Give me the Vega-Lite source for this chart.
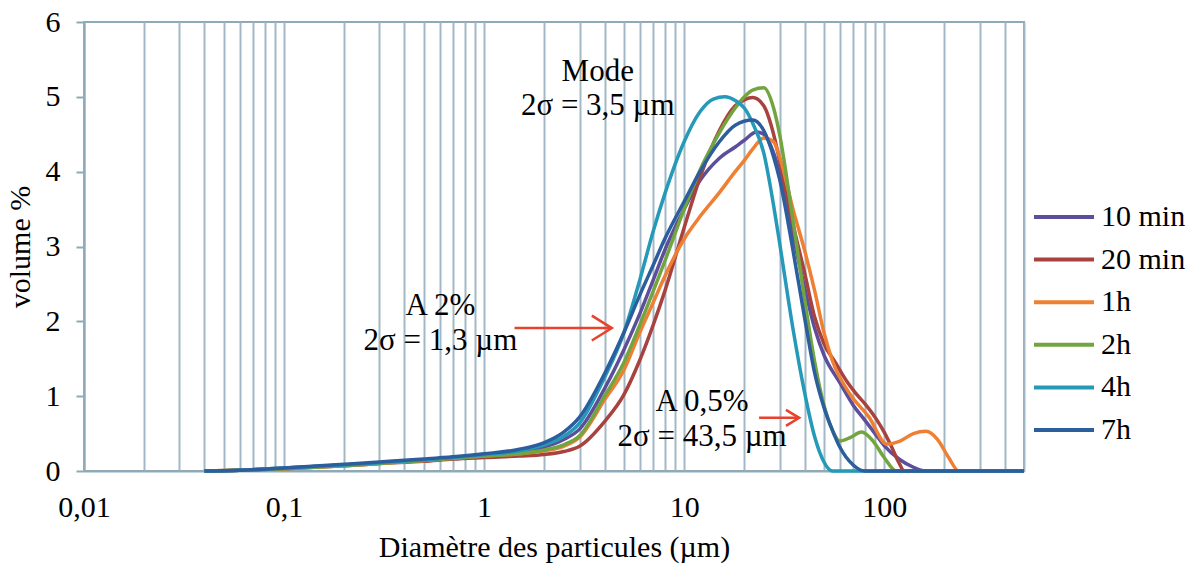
{
  "$schema": "https://vega.github.io/schema/vega-lite/v6.json",
  "width": 940,
  "height": 449,
  "autosize": {"type": "none"},
  "padding": {"left": 84, "top": 22, "right": 175, "bottom": 99},
  "background": "white",
  "config": {
    "view": {"stroke": "#8FA9B8", "strokeWidth": 2},
    "font": "Liberation Serif",
    "axis": {"labelFont": "Liberation Serif", "titleFont": "Liberation Serif", "labelFontSize": 30, "titleFontSize": 30, "titleFontWeight": "normal", "labelColor": "black", "titleColor": "black", "domainColor": "#8FA9B8", "domainWidth": 2, "tickColor": "#8FA9B8", "tickWidth": 2},
    "legend": {"labelFont": "Liberation Serif"}
  },
  "datasets": {
    "curves": [
      {"s":"10 min","d":0.04,"v":0},{"s":"10 min","d":0.06,"v":0.01},{"s":"10 min","d":0.1,"v":0.04},{"s":"10 min","d":0.2,"v":0.08},{"s":"10 min","d":0.3,"v":0.11},{"s":"10 min","d":0.5,"v":0.15},{"s":"10 min","d":0.7,"v":0.18},{"s":"10 min","d":1,"v":0.21},{"s":"10 min","d":1.5,"v":0.26},{"s":"10 min","d":2,"v":0.32},{"s":"10 min","d":2.5,"v":0.42},{"s":"10 min","d":3,"v":0.56},{"s":"10 min","d":4,"v":1.1},{"s":"10 min","d":5,"v":1.62},{"s":"10 min","d":6,"v":2.1},{"s":"10 min","d":7,"v":2.55},{"s":"10 min","d":8,"v":2.95},{"s":"10 min","d":10,"v":3.5},{"s":"10 min","d":12,"v":3.88},{"s":"10 min","d":15,"v":4.18},{"s":"10 min","d":18,"v":4.33},{"s":"10 min","d":20,"v":4.42},{"s":"10 min","d":23,"v":4.53},{"s":"10 min","d":25,"v":4.5},{"s":"10 min","d":28,"v":4.25},{"s":"10 min","d":30,"v":3.98},{"s":"10 min","d":35,"v":3.15},{"s":"10 min","d":40,"v":2.45},{"s":"10 min","d":45,"v":1.9},{"s":"10 min","d":50,"v":1.55},{"s":"10 min","d":60,"v":1.18},{"s":"10 min","d":70,"v":0.88},{"s":"10 min","d":80,"v":0.68},{"s":"10 min","d":90,"v":0.5},{"s":"10 min","d":100,"v":0.34},{"s":"10 min","d":120,"v":0.15},{"s":"10 min","d":140,"v":0.05},{"s":"10 min","d":160,"v":0},{"s":"10 min","d":500,"v":0},
      {"s":"20 min","d":0.04,"v":0},{"s":"20 min","d":0.06,"v":0.01},{"s":"20 min","d":0.1,"v":0.03},{"s":"20 min","d":0.2,"v":0.07},{"s":"20 min","d":0.3,"v":0.1},{"s":"20 min","d":0.5,"v":0.13},{"s":"20 min","d":0.7,"v":0.16},{"s":"20 min","d":1,"v":0.18},{"s":"20 min","d":1.5,"v":0.2},{"s":"20 min","d":2,"v":0.22},{"s":"20 min","d":2.5,"v":0.26},{"s":"20 min","d":3,"v":0.33},{"s":"20 min","d":4,"v":0.66},{"s":"20 min","d":5,"v":1.02},{"s":"20 min","d":6,"v":1.48},{"s":"20 min","d":7,"v":1.95},{"s":"20 min","d":8,"v":2.4},{"s":"20 min","d":10,"v":3.25},{"s":"20 min","d":12,"v":3.92},{"s":"20 min","d":15,"v":4.55},{"s":"20 min","d":18,"v":4.88},{"s":"20 min","d":20,"v":4.96},{"s":"20 min","d":22,"v":4.99},{"s":"20 min","d":25,"v":4.88},{"s":"20 min","d":28,"v":4.5},{"s":"20 min","d":30,"v":4.15},{"s":"20 min","d":35,"v":3.3},{"s":"20 min","d":40,"v":2.65},{"s":"20 min","d":45,"v":2.05},{"s":"20 min","d":50,"v":1.7},{"s":"20 min","d":57,"v":1.45},{"s":"20 min","d":65,"v":1.2},{"s":"20 min","d":72,"v":1.04},{"s":"20 min","d":80,"v":0.9},{"s":"20 min","d":91,"v":0.7},{"s":"20 min","d":100,"v":0.52},{"s":"20 min","d":109,"v":0.32},{"s":"20 min","d":118,"v":0.12},{"s":"20 min","d":126,"v":0},{"s":"20 min","d":500,"v":0},
      {"s":"1h","d":0.04,"v":0},{"s":"1h","d":0.06,"v":0.01},{"s":"1h","d":0.1,"v":0.03},{"s":"1h","d":0.2,"v":0.07},{"s":"1h","d":0.3,"v":0.1},{"s":"1h","d":0.5,"v":0.14},{"s":"1h","d":0.7,"v":0.17},{"s":"1h","d":1,"v":0.2},{"s":"1h","d":1.5,"v":0.23},{"s":"1h","d":2,"v":0.27},{"s":"1h","d":2.5,"v":0.33},{"s":"1h","d":3,"v":0.45},{"s":"1h","d":4,"v":0.95},{"s":"1h","d":5,"v":1.35},{"s":"1h","d":6,"v":1.85},{"s":"1h","d":7,"v":2.25},{"s":"1h","d":8,"v":2.6},{"s":"1h","d":10,"v":3.1},{"s":"1h","d":12,"v":3.4},{"s":"1h","d":15,"v":3.72},{"s":"1h","d":18,"v":4.0},{"s":"1h","d":20,"v":4.15},{"s":"1h","d":22,"v":4.3},{"s":"1h","d":25,"v":4.45},{"s":"1h","d":28,"v":4.4},{"s":"1h","d":30,"v":4.2},{"s":"1h","d":35,"v":3.5},{"s":"1h","d":40,"v":2.95},{"s":"1h","d":45,"v":2.4},{"s":"1h","d":50,"v":1.85},{"s":"1h","d":55,"v":1.48},{"s":"1h","d":67,"v":1.04},{"s":"1h","d":84,"v":0.72},{"s":"1h","d":103,"v":0.36},{"s":"1h","d":120,"v":0.4},{"s":"1h","d":140,"v":0.5},{"s":"1h","d":162,"v":0.53},{"s":"1h","d":185,"v":0.42},{"s":"1h","d":210,"v":0.18},{"s":"1h","d":236,"v":0},{"s":"1h","d":500,"v":0},
      {"s":"2h","d":0.04,"v":0},{"s":"2h","d":0.06,"v":0.01},{"s":"2h","d":0.1,"v":0.03},{"s":"2h","d":0.2,"v":0.07},{"s":"2h","d":0.3,"v":0.1},{"s":"2h","d":0.5,"v":0.14},{"s":"2h","d":0.7,"v":0.17},{"s":"2h","d":1,"v":0.2},{"s":"2h","d":1.5,"v":0.23},{"s":"2h","d":2,"v":0.28},{"s":"2h","d":2.5,"v":0.35},{"s":"2h","d":3,"v":0.47},{"s":"2h","d":4,"v":1.0},{"s":"2h","d":5,"v":1.45},{"s":"2h","d":6,"v":1.95},{"s":"2h","d":7,"v":2.4},{"s":"2h","d":8,"v":2.8},{"s":"2h","d":10,"v":3.5},{"s":"2h","d":12,"v":4.02},{"s":"2h","d":15,"v":4.52},{"s":"2h","d":18,"v":4.85},{"s":"2h","d":20,"v":5.0},{"s":"2h","d":22,"v":5.09},{"s":"2h","d":25,"v":5.12},{"s":"2h","d":28,"v":4.85},{"s":"2h","d":30,"v":4.5},{"s":"2h","d":35,"v":3.35},{"s":"2h","d":40,"v":2.3},{"s":"2h","d":45,"v":1.45},{"s":"2h","d":50,"v":0.88},{"s":"2h","d":55,"v":0.55},{"s":"2h","d":60,"v":0.4},{"s":"2h","d":68,"v":0.45},{"s":"2h","d":77,"v":0.52},{"s":"2h","d":88,"v":0.4},{"s":"2h","d":100,"v":0.18},{"s":"2h","d":115,"v":0},{"s":"2h","d":500,"v":0},
      {"s":"4h","d":0.04,"v":0},{"s":"4h","d":0.06,"v":0.01},{"s":"4h","d":0.1,"v":0.04},{"s":"4h","d":0.2,"v":0.08},{"s":"4h","d":0.3,"v":0.11},{"s":"4h","d":0.5,"v":0.15},{"s":"4h","d":0.7,"v":0.18},{"s":"4h","d":1,"v":0.22},{"s":"4h","d":1.5,"v":0.27},{"s":"4h","d":2,"v":0.35},{"s":"4h","d":2.5,"v":0.46},{"s":"4h","d":3,"v":0.64},{"s":"4h","d":4,"v":1.25},{"s":"4h","d":5,"v":1.85},{"s":"4h","d":6,"v":2.55},{"s":"4h","d":7,"v":3.2},{"s":"4h","d":8,"v":3.7},{"s":"4h","d":10,"v":4.4},{"s":"4h","d":12,"v":4.8},{"s":"4h","d":14,"v":4.97},{"s":"4h","d":16,"v":5.0},{"s":"4h","d":18,"v":4.95},{"s":"4h","d":20,"v":4.85},{"s":"4h","d":22,"v":4.65},{"s":"4h","d":25,"v":4.25},{"s":"4h","d":28,"v":3.55},{"s":"4h","d":30,"v":3.05},{"s":"4h","d":35,"v":1.9},{"s":"4h","d":40,"v":1.05},{"s":"4h","d":45,"v":0.45},{"s":"4h","d":50,"v":0.12},{"s":"4h","d":55,"v":0},{"s":"4h","d":500,"v":0},
      {"s":"7h","d":0.04,"v":0},{"s":"7h","d":0.06,"v":0.01},{"s":"7h","d":0.1,"v":0.04},{"s":"7h","d":0.2,"v":0.09},{"s":"7h","d":0.3,"v":0.12},{"s":"7h","d":0.5,"v":0.16},{"s":"7h","d":0.7,"v":0.19},{"s":"7h","d":1,"v":0.23},{"s":"7h","d":1.5,"v":0.29},{"s":"7h","d":2,"v":0.38},{"s":"7h","d":2.5,"v":0.52},{"s":"7h","d":3,"v":0.72},{"s":"7h","d":4,"v":1.3},{"s":"7h","d":5,"v":1.85},{"s":"7h","d":6,"v":2.35},{"s":"7h","d":7,"v":2.75},{"s":"7h","d":8,"v":3.1},{"s":"7h","d":10,"v":3.6},{"s":"7h","d":12,"v":4.0},{"s":"7h","d":15,"v":4.4},{"s":"7h","d":18,"v":4.62},{"s":"7h","d":22,"v":4.69},{"s":"7h","d":25,"v":4.55},{"s":"7h","d":28,"v":4.2},{"s":"7h","d":30,"v":3.9},{"s":"7h","d":35,"v":2.95},{"s":"7h","d":40,"v":2.05},{"s":"7h","d":45,"v":1.3},{"s":"7h","d":50,"v":0.85},{"s":"7h","d":55,"v":0.55},{"s":"7h","d":60,"v":0.32},{"s":"7h","d":70,"v":0.08},{"s":"7h","d":80,"v":0},{"s":"7h","d":500,"v":0}
    ],
    "labels": [
      {"t":"Mode","d":3.7,"v":5.33},
      {"t":"2σ = 3,5 µm","d":3.7,"v":4.88},
      {"t":"A 2%","d":0.605,"v":2.2},
      {"t":"2σ = 1,3 µm","d":0.605,"v":1.74},
      {"t":"A 0,5%","d":12.3,"v":0.92},
      {"t":"2σ = 43,5 µm","d":12.3,"v":0.46}
    ],
    "arrowBig": [{"d":1.42,"d2":4.35,"v":1.91}],
    "arrowSmall": [{"d":23.7,"d2":37.6,"v":0.71}]
  },
  "layer": [
    {
      "data": {"name": "curves"},
      "mark": {"type": "line", "strokeWidth": 3.5, "interpolate": "monotone"},
      "encoding": {
        "x": {"field": "d", "type": "quantitative",
          "scale": {"type": "log", "domain": [0.01, 500], "nice": false},
          "axis": {"title": "Diamètre des particules (µm)", "values": [0.01,0.02,0.03,0.04,0.05,0.06,0.07,0.08,0.09,0.1,0.2,0.3,0.4,0.5,0.6,0.7,0.8,0.9,1,2,3,4,5,6,7,8,9,10,20,30,40,50,60,70,80,90,100,200,300,400,500],
            "labelExpr": "datum.value == 0.01 ? '0,01' : datum.value == 0.1 ? '0,1' : datum.value == 1 ? '1' : datum.value == 10 ? '10' : datum.value == 100 ? '100' : ''",
            "grid": true, "gridColor": "#A3B8C6", "gridWidth": 2, "ticks": false, "labelPadding": 21, "labelFlush": false, "labelOverlap": false, "titlePadding": 10}},
        "y": {"field": "v", "type": "quantitative",
          "scale": {"domain": [0, 6], "nice": false},
          "axis": {"title": "volume %", "values": [0,1,2,3,4,5,6], "format": "d", "grid": false, "tickSize": 8, "labelPadding": 16, "titlePadding": 10}},
        "color": {"field": "s", "type": "nominal",
          "scale": {"domain": ["10 min","20 min","1h","2h","4h","7h"], "range": ["#5D4E9C","#A8423F","#EE7F33","#72A440","#2499B8","#2C5E9E"]},
          "legend": {"title": null, "orient": "none", "legendX": 965, "legendY": 180, "symbolType": "M-3,0H3", "symbolSize": 400, "symbolStrokeWidth": 4, "labelFont": "Liberation Serif", "labelFontSize": 30, "labelColor": "black", "rowPadding": 12.6, "labelOffset": 22, "padding": 0}},
        "order": {"field": "s"}
      }
    },
    {
      "data": {"name": "arrowBig"},
      "mark": {"type": "rule", "color": "#E8412C", "strokeWidth": 2.5},
      "encoding": {"x": {"field": "d", "type": "quantitative"}, "x2": {"field": "d2"}, "y": {"field": "v", "type": "quantitative"}}
    },
    {
      "data": {"name": "arrowBig"},
      "mark": {"type": "point", "shape": "M-1,-0.62L0,0L-1,0.62", "filled": false, "stroke": "#E8412C", "strokeWidth": 2.5, "size": 1600, "opacity": 1},
      "encoding": {"x": {"field": "d2", "type": "quantitative"}, "y": {"field": "v", "type": "quantitative"}}
    },
    {
      "data": {"name": "arrowSmall"},
      "mark": {"type": "rule", "color": "#E8412C", "strokeWidth": 2.5},
      "encoding": {"x": {"field": "d", "type": "quantitative"}, "x2": {"field": "d2"}, "y": {"field": "v", "type": "quantitative"}}
    },
    {
      "data": {"name": "arrowSmall"},
      "mark": {"type": "point", "shape": "M-1,-0.6L0,0L-1,0.6", "filled": false, "stroke": "#E8412C", "strokeWidth": 2.5, "size": 700, "opacity": 1},
      "encoding": {"x": {"field": "d2", "type": "quantitative"}, "y": {"field": "v", "type": "quantitative"}}
    },
    {
      "data": {"name": "labels"},
      "mark": {"type": "text", "font": "Liberation Serif", "fontSize": 31, "color": "black", "align": "center", "baseline": "middle"},
      "encoding": {"x": {"field": "d", "type": "quantitative"}, "y": {"field": "v", "type": "quantitative"}, "text": {"field": "t"}}
    }
  ]
}
